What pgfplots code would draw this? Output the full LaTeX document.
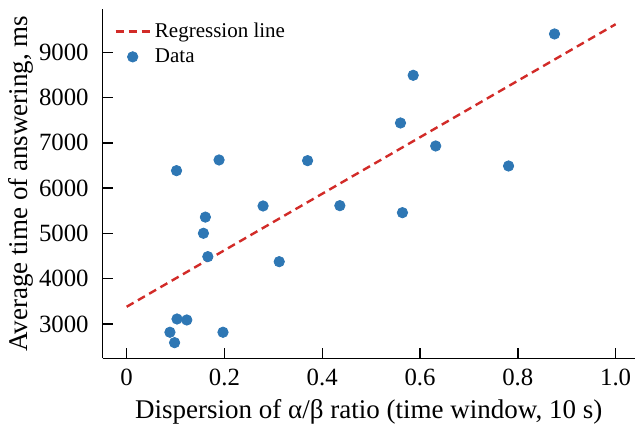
\documentclass[border=0pt]{standalone}
\usepackage{fontspec}
\setmainfont{Liberation Serif}
\usepackage{pgfplots}
\pgfplotsset{compat=1.18}
\definecolor{dotblue}{HTML}{2E77B4}
\definecolor{regred}{HTML}{D22B28}

\begin{document}
\begin{tikzpicture}
  % fixed page box, in pt (reference pixels x 0.5)
  \useasboundingbox (-51.35pt,-36.35pt) rectangle (269.65pt,179.15pt);
  \begin{axis}[
    at={(0,0)}, anchor=south west,
    scale only axis, width=266pt, height=174.5pt,
    xmin=-0.049, xmax=1.039, ymin=2242, ymax=9950,
    axis x line*=bottom, axis y line*=left,
    xtick={0,0.2,0.4,0.6,0.8,1.0},
    xticklabels={0,0.2,0.4,0.6,0.8,1.0},
    ytick={3000,4000,5000,6000,7000,8000,9000},
    yticklabel style={/pgf/number format/1000 sep={}, xshift=-3.5pt},
    xticklabel style={yshift=-2pt},
    tick align=inside, major tick length=5pt,
    tick style={line width=0.7pt, black},
    axis line style={line width=0.7pt},
    ticklabel style={font=\fontsize{12.4}{15}\selectfont},
    /pgf/number format/assume math mode=true,
    label style={font=\fontsize{13.5}{16}\selectfont},
    xlabel={Dispersion of α/β ratio (time window, 10 s)},
    ylabel={Average time of answering, ms},
    ylabel shift=-4pt,
    legend style={draw=none, fill=none, at={(rel axis cs:0.01,0.985)},
      anchor=north west, font=\fontsize{10.5}{12}\selectfont, row sep=0pt},
    legend cell align=left,
  ]
    \addplot[regred, line width=1.2pt, dash pattern=on 4pt off 2.5pt]
      coordinates {(0,3380) (1,9620)};
    \addlegendentry{Regression line}
    \addplot[only marks, mark=*, mark size=2.6pt, draw=dotblue, fill=dotblue]
      coordinates {
        (0.875,9405) (0.586,8492) (0.560,7439) (0.632,6931) (0.781,6489)
        (0.370,6607) (0.189,6622) (0.102,6386) (0.279,5606) (0.436,5613)
        (0.564,5458) (0.161,5360) (0.157,5003) (0.166,4487) (0.312,4376)
        (0.103,3110) (0.123,3088) (0.0885,2817) (0.098,2587) (0.197,2817)
      };
    \addlegendentry{Data}
  \end{axis}
\end{tikzpicture}
\end{document}
